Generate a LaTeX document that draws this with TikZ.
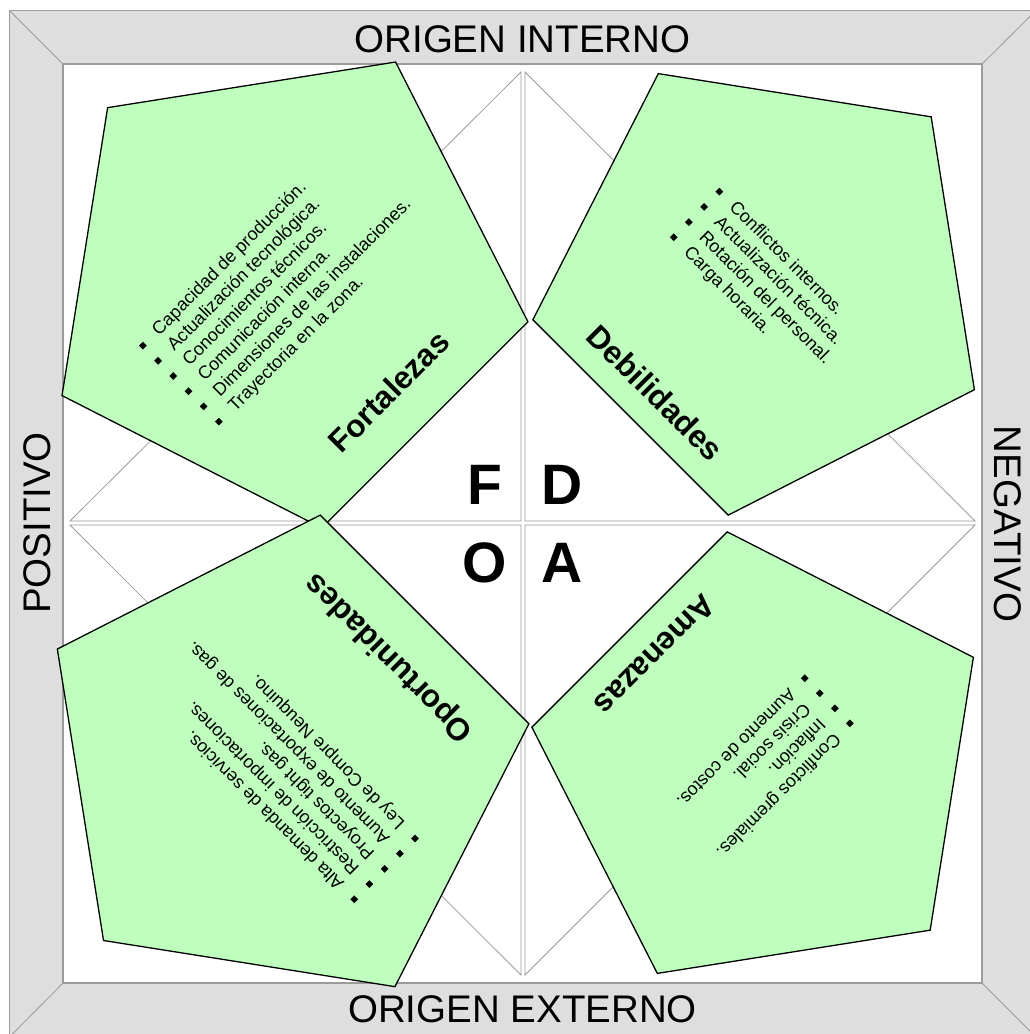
\documentclass[tikz,border=0pt]{standalone}
\usepackage{fontspec}
\setmainfont{Liberation Sans}
\usetikzlibrary{calc}
\definecolor{pentfill}{RGB}{190,255,190}
\definecolor{bandgray}{RGB}{222,222,222}
\definecolor{linegray}{RGB}{155,155,155}
\begin{document}
\begin{tikzpicture}[x=1pt,y=-1pt,
  band/.style={fill=bandgray,draw=linegray,line width=1pt},
  inner/.style={fill=white,draw=linegray,line width=1.6pt},
  thin/.style={draw=linegray,line width=0.8pt},
  pent/.style={fill=pentfill,draw=black,line width=1.3pt,line join=miter},
  framelabel/.style={font=\fontsize{38.5}{40}\selectfont,inner sep=0pt,text depth=0pt},
  bigletter/.style={font=\bfseries\fontsize{57}{60}\selectfont,inner sep=0pt,text depth=0pt},
  title/.style={font=\bfseries\fontsize{31.5}{36}\selectfont,inner sep=0pt,text height=0.73em,text depth=0pt},
  itemtxt/.style={anchor=base west,font=\fontsize{18}{21}\selectfont,inner sep=0pt},
  bul/.style={fill=black,minimum size=5.5pt,inner sep=0pt,outer sep=0pt}]
\useasboundingbox (0,0) rectangle (1030,1034);
\clip (0,0) rectangle (1030,1034);
% frame band
\path[band] (9.5,10.5) rectangle (1036,1037);
\path[inner] (63,64) rectangle (982,983);
\coordinate (o1) at (9.5,10.5);   \coordinate (i1) at (63,64);
\coordinate (o2) at (1036,10.5);  \coordinate (i2) at (982,64);
\coordinate (o3) at (9.5,1037);   \coordinate (i3) at (63,983);
\coordinate (o4) at (1036,1037);  \coordinate (i4) at (982,983);
\draw[thin] (o1) -- (i1) (o2) -- (i2) (o3) -- (i3) (o4) -- (i4);
% quadrant triangles
\draw[thin] (521,72) -- (521,521) -- (70,521) -- cycle;
\draw[thin] (525,72) -- (525,521) -- (975,521) -- cycle;
\draw[thin] (70,525) -- (521,525) -- (521,975) -- cycle;
\draw[thin] (525,525) -- (975,525) -- (525,975) -- cycle;
% pentagons
\coordinate (cF) at (283,283);
\coordinate (cD) at (765,283);
\coordinate (cO) at (281,763);
\coordinate (cA) at (764,764);
\draw[pent] ($(cF)+(135:248pt)$) -- ($(cF)+(63:248pt)$) -- ($(cF)+(-9:248pt)$) -- ($(cF)+(-81:248pt)$) -- ($(cF)+(-153:248pt)$) -- cycle;
\draw[pent] ($(cD)+(45:235pt)$) -- ($(cD)+(117:235pt)$) -- ($(cD)+(189:235pt)$) -- ($(cD)+(261:235pt)$) -- ($(cD)+(333:235pt)$) -- cycle;
\draw[pent] ($(cA)+(-45:235pt)$) -- ($(cA)+(27:235pt)$) -- ($(cA)+(99:235pt)$) -- ($(cA)+(171:235pt)$) -- ($(cA)+(243:235pt)$) -- cycle;
\draw[pent] ($(cO)+(225:251pt)$) -- ($(cO)+(297:251pt)$) -- ($(cO)+(9:251pt)$) -- ($(cO)+(81:251pt)$) -- ($(cO)+(153:251pt)$) -- cycle;
% titles
\node[title,rotate=45] (tF) at (394,397) {Fortalezas};
\node[title,rotate=-45] (tD) at (650,398) {Debilidades};
\node[title,rotate=135] (tO) at (393,654) {Oportunidades};
\node[title,rotate=-135] (tA) at (650,650) {Amenazas};
% lists
\begin{scope}[rotate=45,transform shape]
\foreach \t [count=\i from 0] in {Capacidad de producción.,Actualización tecnológica.,Conocimientos técnicos.,Comunicación interna.,Dimensiones de las instalaciones.,Trayectoria en la zona.}{
  \node[bul] (fb\i) at (-143.4,345.4+21.5*\i) {};
  \node[itemtxt] (ft\i) at (-125.4,350.4+21.5*\i) {\t};
}
\end{scope}
\begin{scope}[rotate=-45,transform shape]
\foreach \t [count=\i from 0] in {Conflictos internos.,Actualización técnica.,Rotación del personal.,Carga horaria.}{
  \node[bul] (db\i) at (644.2,-373.1+21.5*\i) {};
  \node[itemtxt] (dt\i) at (662.2,-368.1+21.5*\i) {\t};
}
\end{scope}
\begin{scope}[rotate=135,transform shape]
\foreach \t [count=\i from 0] in {Alta demanda de servicios.,Restricción de importaciones.,Proyectos tight gas.,Aumento de exportaciones de gas.,Ley de Compre Neuquino.}{
  \node[bul] (ob\i) at (-886.4,-385.4+21.5*\i) {};
  \node[itemtxt] (ot\i) at (-868.4,-380.4+21.5*\i) {\t};
}
\end{scope}
\begin{scope}[rotate=-135,transform shape]
\foreach \t [count=\i from 0] in {Conflictos gremiales.,Inflación.,Crisis social.,Aumento de costos.}{
  \node[bul] (ab\i) at (-89.5,-1112.5+21.3*\i) {};
  \node[itemtxt] (at\i) at (-71.5,-1107.5+21.3*\i) {\t};
}
\end{scope}
% big letters
\node[bigletter] (lF) at (485,485) {F};
\node[bigletter] (lD) at (562,485) {D};
\node[bigletter] (lO) at (485,563) {O};
\node[bigletter] (lA) at (562,563) {A};
% frame labels
\node[framelabel] (top) at (522.5,39) {ORIGEN INTERNO};
\node[framelabel] (bot) at (522.5,1009) {ORIGEN EXTERNO};
\node[framelabel,rotate=90] (lft) at (37.5,523) {POSITIVO};
\node[framelabel,rotate=-90] (rgt) at (1008,524) {NEGATIVO};
\end{tikzpicture}
\end{document}
